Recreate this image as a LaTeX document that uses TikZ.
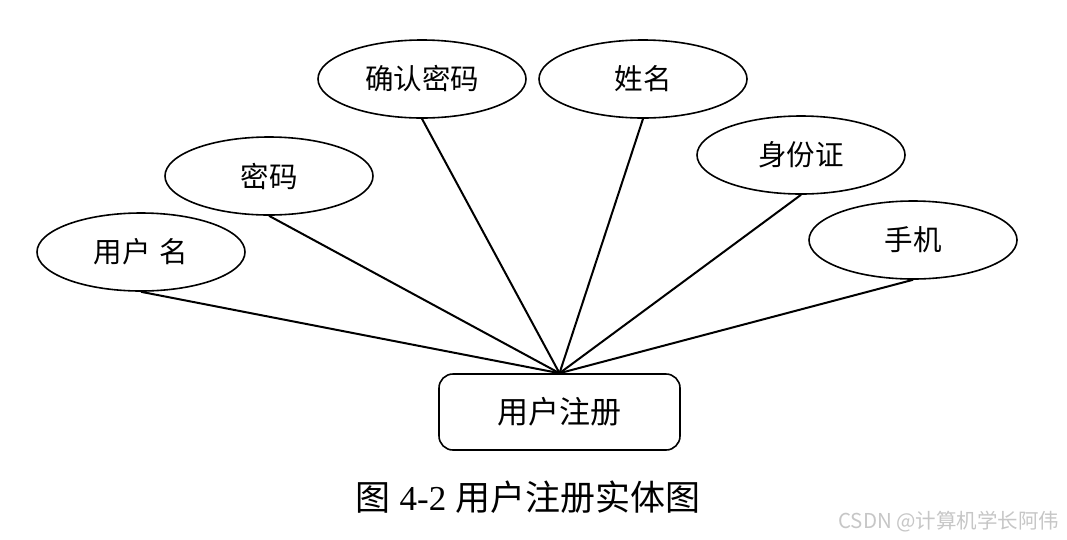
\documentclass[tikz,border=0pt]{standalone}
\usepackage{fontspec}
\setmainfont{Liberation Serif}
\newfontfamily\cjk{Noto Sans CJK SC}
\newfontfamily\wmfont{Noto Sans CJK SC}
\usepackage{tikz}
\usetikzlibrary{shapes.geometric}

\begin{document}
\begin{tikzpicture}[
  x=1pt, y=-1pt,
  attr/.style={draw, ellipse, line width=1.6pt, minimum width=208pt, minimum height=78pt, inner sep=0pt, font=\cjk\fontsize{28.5}{32}\selectfont},
  entity/.style={draw, rounded corners=14pt, line width=1.6pt, minimum width=241pt, minimum height=76pt, font=\cjk\fontsize{31}{36}\selectfont},
  link/.style={line width=2pt}
]
\useasboundingbox (0,0) rectangle (1067,539);

\node[entity] (reg) at (559.5,412) {用户注册};

\node[attr] (uname) at (141,252) {用户\,\,名};
\node[attr] (pwd) at (269,176) {密码};
\node[attr] (cpwd) at (422,79) {确认密码};
\node[attr] (name) at (643,79) {姓名};
\node[attr] (idcard) at (801,155) {身份证};
\node[attr] (phone) at (913,240) {手机};

\draw[link] (uname.south) -- (reg.north);
\draw[link] (pwd.south) -- (reg.north);
\draw[link] (cpwd.south) -- (reg.north);
\draw[link] (name.south) -- (reg.north);
\draw[link] (idcard.south) -- (reg.north);
\draw[link] (phone.south) -- (reg.north);

\node[font=\fontsize{35}{40}\selectfont] (cap) at (528,497) {{\cjk 图} 4-2 {\cjk 用户注册实体图}};
\node[text=gray!45, font=\wmfont\fontsize{20.5}{24}\selectfont, anchor=east] (mark) at (1063,522) {CSDN @计算机学长阿伟};
\end{tikzpicture}
\end{document}
